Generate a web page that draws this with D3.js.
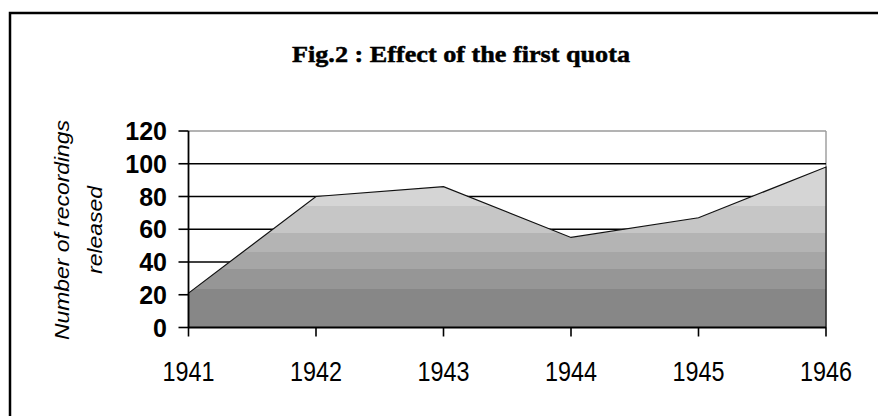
<!DOCTYPE html>
<html><head><meta charset="utf-8">
<script src="https://cdn.jsdelivr.net/npm/d3@7"></script>
<style>html,body{margin:0;padding:0;background:#fff;}svg{display:block;}</style>
</head><body>
<svg id="chart" width="878" height="416"></svg>
<script>
const title = "Fig.2 : Effect of the first quota";
const years = ["1941","1942","1943","1944","1945","1946"];
const recordings = [21, 80, 86, 55, 67, 98];
const yTicks = [0, 20, 40, 60, 80, 100, 120];
const yTitleLines = ["Number of recordings", "released"];

const svg = d3.select("#chart");
const W = 878, H = 416;
const plot = {left: 188.5, right: 826, top: 131, bottom: 327.5};

const x = d3.scalePoint().domain(years).range([plot.left, plot.right]);
const y = d3.scaleLinear().domain([0, 120]).range([plot.bottom, plot.top]);

// frame (only left and top edges are visible in the window)
svg.append("path").attr("d", `M10,${H+5} L10,13 L${W+5},13`)
  .attr("fill","none").attr("stroke","#000").attr("stroke-width",2.5);

// title
svg.append("text").attr("x", 292).attr("y", 62)
  .attr("textLength", 338).attr("lengthAdjust","spacingAndGlyphs")
  .attr("font-family","'Liberation Serif','Times New Roman',serif")
  .attr("font-weight","bold").attr("font-size", 24).attr("fill","#000")
  .attr("stroke","#000").attr("stroke-width",0.5)
  .text(title);

// gradient (stepped bands, light top -> dark bottom)
const bandStops = [
  {v: 0, c: "#878787"}, {v: 23.4, c: "#969696"}, {v: 35.6, c: "#a6a6a6"},
  {v: 46, c: "#b4b4b4"}, {v: 57.7, c: "#c6c6c6"}, {v: 74.4, c: "#d5d5d5"}, {v: 120, c: "#d5d5d5"}
];
const grad = svg.append("defs").append("linearGradient").attr("id","g")
  .attr("gradientUnits","userSpaceOnUse")
  .attr("x1",0).attr("x2",0).attr("y1", y(0)).attr("y2", y(120));
for (let i = 0; i < bandStops.length - 1; i++) {
  const o1 = bandStops[i].v / 120, o2 = bandStops[i+1].v / 120;
  grad.append("stop").attr("offset", o1).attr("stop-color", bandStops[i].c);
  grad.append("stop").attr("offset", o2).attr("stop-color", bandStops[i].c);
}

// top border and right border of plot (gray)
svg.append("line").attr("x1", plot.left).attr("x2", plot.right)
  .attr("y1", y(120)).attr("y2", y(120)).attr("stroke","#9a9a9a").attr("stroke-width",1.4);
svg.append("line").attr("x1", plot.right).attr("x2", plot.right)
  .attr("y1", y(120)).attr("y2", y(0)).attr("stroke","#9a9a9a").attr("stroke-width",1.4);

// gridlines
svg.append("g").selectAll("line").data(yTicks.filter(d => d > 0 && d < 120)).join("line")
  .attr("x1", plot.left).attr("x2", plot.right)
  .attr("y1", d => y(d)).attr("y2", d => y(d))
  .attr("stroke","#000").attr("stroke-width",1.6);

// area
const area = d3.area().x((d,i) => x(years[i])).y0(y(0)).y1(d => y(d));
svg.append("path").datum(recordings).attr("d", area)
  .attr("fill","url(#g)").attr("stroke","#111").attr("stroke-width",1.2);

// axes
svg.append("line").attr("x1", plot.left).attr("x2", plot.left)
  .attr("y1", y(120)).attr("y2", y(0)).attr("stroke","#000").attr("stroke-width",1.8);
svg.append("line").attr("x1", plot.left).attr("x2", plot.right)
  .attr("y1", y(0)).attr("y2", y(0)).attr("stroke","#000").attr("stroke-width",1.8);

// y ticks
svg.append("g").selectAll("line").data(yTicks).join("line")
  .attr("x1", plot.left - 10).attr("x2", plot.left)
  .attr("y1", d => y(d)).attr("y2", d => y(d))
  .attr("stroke","#000").attr("stroke-width",1.6);
svg.append("g").selectAll("text").data(yTicks).join("text")
  .attr("x", 167).attr("y", d => y(d) + 9)
  .attr("text-anchor","end")
  .attr("font-family","'Liberation Sans',Arial,sans-serif")
  .attr("font-weight","bold").attr("font-size", 25).attr("fill","#000")
  .text(d => d);

// x ticks
svg.append("g").selectAll("line").data(years).join("line")
  .attr("x1", d => x(d)).attr("x2", d => x(d))
  .attr("y1", y(0)).attr("y2", y(0) + 9)
  .attr("stroke","#000").attr("stroke-width",1.6);
svg.append("g").selectAll("text").data(years).join("text")
  .attr("x", d => x(d) - 26).attr("y", 381)
  .attr("textLength", 52).attr("lengthAdjust","spacingAndGlyphs")
  .attr("font-family","'Liberation Sans',Arial,sans-serif")
  .attr("font-size", 27).attr("fill","#000")
  .text(d => d);

// y-axis title
const yt = svg.append("g").attr("transform", `translate(0,230) rotate(-90)`);
yt.selectAll("text").data(yTitleLines).join("text")
  .attr("x", (d,i) => i === 0 ? -110 : -44).attr("y", (d,i) => i === 0 ? 69 : 102)
  .attr("textLength", (d,i) => i === 0 ? 220 : 88).attr("lengthAdjust","spacingAndGlyphs")
  .attr("font-family","'Liberation Sans',Arial,sans-serif")
  .attr("font-style","italic").attr("font-size", 21).attr("fill","#000")
  .text(d => d);
</script>
</body></html>
